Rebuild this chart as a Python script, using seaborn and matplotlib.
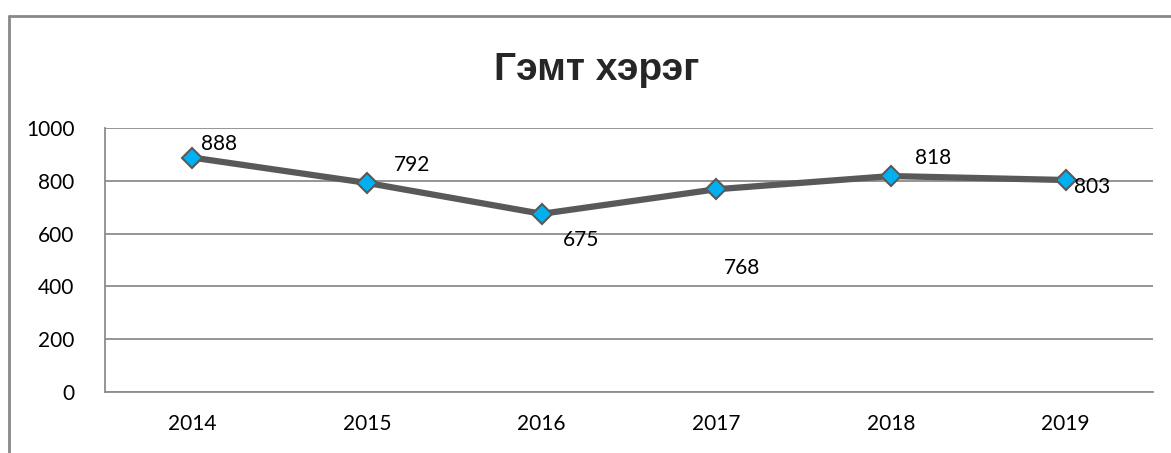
import matplotlib
matplotlib.use("Agg")
import matplotlib.pyplot as plt
from matplotlib.lines import Line2D
import seaborn as sns
import pandas as pd

years = ["2014", "2015", "2016", "2017", "2018", "2019"]
values = [888, 792, 675, 768, 818, 803]
title = "Гэмт хэрэг"
yticks = [0, 200, 400, 600, 800, 1000]

# label offsets in pixels (dx, dy)
offsets = [(27, 14), (45, 18), (39, -26), (26, -79), (42, 18), (26, -7)]

sns.set_theme(style="white")
plt.rcParams['font.family'] = ['Lato', 'DejaVu Sans']

df = pd.DataFrame({"year": years, "value": values})

fig = plt.figure(figsize=(11.71, 4.53), dpi=100)
ax = fig.add_axes([105/1171, 1-392/453, (1153-105)/1171, (392-128)/453])

sns.lineplot(data=df, x="year", y="value", ax=ax, color="#595959", linewidth=4.5,
             marker="D", markersize=10, markerfacecolor="#00B0F0",
             markeredgecolor="#595959", markeredgewidth=1.5, zorder=3)

ax.set_xlim(-0.5, len(years) - 0.5)
ax.set_ylim(0, 1000)
ax.set_yticks(yticks)
ax.set_yticklabels([str(t) for t in yticks])
ax.set_xlabel("")
ax.set_ylabel("")
ax.grid(axis="y", color="#8c8c8c", linewidth=1.3)
ax.grid(axis="x", visible=False)
ax.set_axisbelow(True)
for s in ["top", "right"]:
    ax.spines[s].set_visible(False)
for s in ["left", "bottom"]:
    ax.spines[s].set_color("#8c8c8c")
    ax.spines[s].set_linewidth(1.3)
ax.tick_params(axis="both", length=0, labelsize=15, colors="black")
ax.tick_params(axis="y", pad=22)
ax.tick_params(axis="x", pad=16)

for i, (v, (dx, dy)) in enumerate(zip(values, offsets)):
    ax.annotate(str(v), (i, v), xytext=(dx, dy), textcoords="offset pixels",
                ha="center", va="center", fontsize=15, color="black", zorder=4)

fig.text(597/1171, 1-70/453, title, ha="center", va="center", fontsize=28,
         fontweight="bold", family=["Liberation Sans", "DejaVu Sans"])

fig.add_artist(Line2D([8.5/1171, 1], [1-15.5/453, 1-15.5/453], transform=fig.transFigure,
                      color="#888888", linewidth=2))
fig.add_artist(Line2D([8.5/1171, 8.5/1171], [0, 1-15.5/453], transform=fig.transFigure,
                      color="#888888", linewidth=2))

fig.savefig("out.png", dpi=100)
